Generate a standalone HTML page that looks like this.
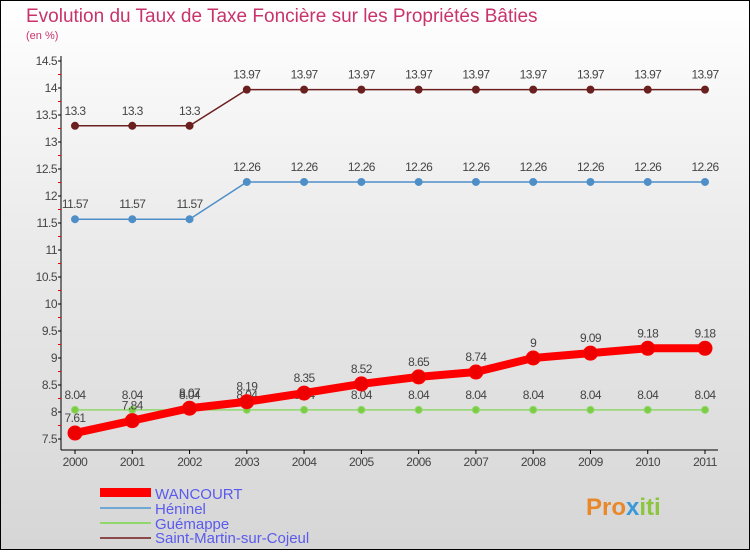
<!DOCTYPE html>
<html><head><meta charset="utf-8"><style>
body{margin:0;width:750px;height:550px;overflow:hidden;font-family:"Liberation Sans",sans-serif}
#wrap{position:relative;width:748px;height:548px;border:1px solid #000;background:linear-gradient(#fff,#ececec 40%,#d6d6d6)}
</style></head><body>
<div id="wrap">
<svg width="748" height="548" id="chart" font-family="Liberation Sans, sans-serif">
<text x="25" y="21" font-size="19" fill="#c8336b">Evolution du Taux de Taxe Foncière sur les Propriétés Bâties</text>
<text x="25" y="38" font-size="11" fill="#c8336b">(en %)</text>
<g id="axes"></g><g id="series"></g>
<g>
<rect x="99" y="487" width="51" height="9" fill="#f00"/>
<text x="154" y="498" font-size="15" fill="#5a5aee">WANCOURT</text>
<rect x="99" y="506" width="51" height="2" fill="#6fa8d4"/>
<text x="154" y="513" font-size="15" fill="#5a5aee">Héninel</text>
<rect x="99" y="521" width="51" height="2" fill="#90d86c"/>
<text x="154" y="528" font-size="15" fill="#5a5aee">Guémappe</text>
<rect x="99" y="536" width="51" height="2" fill="#8b4a4a"/>
<text x="154" y="542" font-size="15" fill="#5a5aee">Saint-Martin-sur-Cojeul</text>
</g>
<text x="585" y="514" font-size="24" font-weight="bold" fill="#e8882a">Pro<tspan fill="#3a9ad8">x</tspan><tspan fill="#8cc63f">iti</tspan></text>
</svg></div>
<script>
const years=[2000,2001,2002,2003,2004,2005,2006,2007,2008,2009,2010,2011];
const wancourt=[7.61,7.84,8.07,8.19,8.35,8.52,8.65,8.74,9,9.09,9.18,9.18];
const heninel=[11.57,11.57,11.57,12.26,12.26,12.26,12.26,12.26,12.26,12.26,12.26,12.26];
const guemappe=[8.04,8.04,8.04,8.04,8.04,8.04,8.04,8.04,8.04,8.04,8.04,8.04];
const saintMartin=[13.3,13.3,13.3,13.97,13.97,13.97,13.97,13.97,13.97,13.97,13.97,13.97];
const yTicks=[7.5,8,8.5,9,9.5,10,10.5,11,11.5,12,12.5,13,13.5,14,14.5];
const NS="http://www.w3.org/2000/svg";
const x=i=>74+i*(630/(years.length-1));
const y=v=>438-(v-7.5)*54;
function mk(t,a,p){const e=document.createElementNS(NS,t);for(const k in a)e.setAttribute(k,a[k]);p.appendChild(e);return e;}
const ax=document.getElementById('axes');
let l=mk('line',{x1:60,y1:55,x2:60,y2:449,stroke:'#000','stroke-width':1},ax);


l=mk('line',{x1:60,y1:449,x2:717,y2:449,stroke:'#000','stroke-width':1},ax);


yTicks.forEach((v,i)=>{
 mk('line',{x1:57,x2:60,y1:y(v),y2:y(v),stroke:'#000'},ax);
 if(i<yTicks.length-1)mk('line',{x1:57,x2:60,y1:y(v+0.25),y2:y(v+0.25),stroke:'#e00'},ax);
 const t=mk('text',{x:56,y:y(v)+4,'font-size':12,fill:'#444','text-anchor':'end','letter-spacing':'-0.5'},ax);
 t.textContent=String(v);
 
 
});
years.forEach((yr,i)=>{
 mk('line',{x1:x(i),x2:x(i),y1:449,y2:453,stroke:'#000'},ax);
 const t=mk('text',{x:x(i),y:465,'font-size':12,fill:'#444','text-anchor':'middle','letter-spacing':'-0.5'},ax);
 t.textContent=yr;
 
 
});
const sg=document.getElementById('series');
function series(name,vals,color,w,r,fill){
 const g=mk('g',{},sg);
 
 
 const p=mk('polyline',{points:vals.map((v,i)=>x(i)+','+y(v)).join(' '),fill:'none',stroke:color,'stroke-width':w,'stroke-linejoin':'round'},g);
 
 
 vals.forEach((v,i)=>{
  const c=mk('circle',{cx:x(i),cy:y(v),r:r,fill:fill,stroke:color,'stroke-width':1},g);
  
  
  const t=mk('text',{x:x(i),y:y(v)-11,'font-size':12,fill:'#444','text-anchor':'middle','letter-spacing':'-0.6'},g);
  t.textContent=String(v);
  
  
 });
}
series('saint-martin',saintMartin,'#6b1f1f',1.5,3.5,'#6b1f1f');
series('heninel',heninel,'#4f8fc8',1.5,3.5,'#4f8fc8');
series('guemappe',guemappe,'#90d86c',1.5,3.5,'#7ccc44');
series('wancourt',wancourt,'#f00',8,7,'#e00');
</script>
</body></html>
